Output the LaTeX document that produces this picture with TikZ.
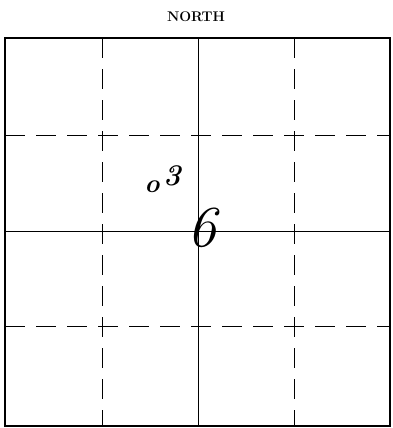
\documentclass[tikz,border=0pt]{standalone}
\usepackage{tikz}
\usetikzlibrary{positioning}

\begin{document}
\begin{tikzpicture}[
	x=1pt, y=-1pt,
	frame/.style={draw, line width=1.8pt},
	solidline/.style={draw, line width=0.9pt},
	dashline/.style={draw, line width=0.9pt, dash pattern=on 20pt off 11pt},
	hand/.style={inner sep=0pt, font=\itshape}
]
\useasboundingbox (0,0) rectangle (393,428);
\node[font=\fontsize{14}{16}\selectfont\bfseries] (north) at (196,17) {NORTH};

% outer square and the grid inside it
\draw[frame] (5,38) rectangle (390,426);
\draw[solidline] (198,38) -- (198,426);
\draw[solidline] (5,231) -- (390,231);
\foreach \gx in {102,294}
	\draw[dashline] (\gx,38) -- (\gx,426);
\foreach \gy in {135,326}
	\draw[dashline] (5,\gy) -- (390,\gy);

% handwritten marks
\node[hand, font=\fontsize{26}{26}\selectfont\bfseries\itshape] (dot) at (152,187) {o};
\node[hand, font=\fontsize{30}{30}\selectfont\bfseries\itshape] (three) at (172,176) {3};
\node[hand, font=\fontsize{58}{58}\selectfont\itshape] (six) at (202,228) {6};
\end{tikzpicture}
\end{document}
